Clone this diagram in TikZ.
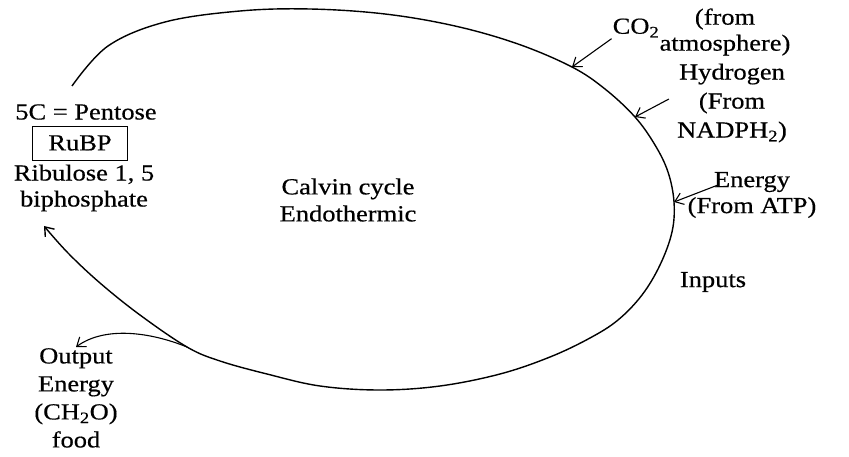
\documentclass[tikz,border=0pt]{standalone}
\usepackage{fontspec}
\setmainfont{Liberation Serif}[FakeStretch=1.15, FakeBold=0.5]
\usetikzlibrary{arrows.meta, positioning}

\tikzset{
  lbl/.style={font=\fontsize{23}{26}\selectfont, inner sep=1pt, align=center},
  inarrow/.style={-{Straight Barb[length=8pt,width=12pt]}, line width=1.1pt},
  loopline/.style={line width=1.4pt}
}

\begin{document}
\begin{tikzpicture}[x=1pt, y=-1pt]
    \useasboundingbox (0,0) rectangle (849,457);

    % RuBP side
    \node [lbl] (pentose) at (86,112) {5C = Pentose};
    \node [lbl, draw, line width=0.9pt, minimum width=95pt, minimum height=34pt] (rubp) at (80,143) {RuBP};
    \node [lbl] (ribulose) at (84,188) {Ribulose 1, 5\\biphosphate};
    \coordinate (back) at (44,226);

    % middle
    \node [lbl, font=\fontsize{23}{27}\selectfont] (calvin) at (348,200) {Calvin cycle\\Endothermic};

    % inputs
    \node [lbl] (co2) at (636,28) {CO\textsubscript{2}};
    \node [lbl] (fromair) at (725,32) {(from\\atmosphere)};
    \node [lbl, font=\fontsize{23}{29}\selectfont] (fromnadph) at (732,103) {Hydrogen\\(From\\NADPH\textsubscript{2})};
    \node [lbl] (fromatp) at (752,195) {Energy\\(From ATP)};
    \node [lbl] (inputs) at (713,282) {Inputs};
    \coordinate (energytail) at (718,185);

    % output
    \node [lbl, font=\fontsize{23}{28}\selectfont, anchor=north] (output) at (76,347) {Output\\Energy\\(CH\textsubscript{2}O)\\food};

    % points on the cycle
    \coordinate (inco2) at (572,67);
    \coordinate (inh) at (635,117);
    \coordinate (inatp) at (674,202);
    \coordinate (outpt) at (187,347);

    % the cycle
    \draw [loopline, -{Straight Barb[length=8pt,width=12pt]}] plot [smooth, tension=0.6] coordinates {
      (72,86) (108,46) (165,22) (240,11) (310,9) (385,14) (455,26) (518,44)
      (inco2) (605,89) (inh) (655,145) (668,172) (inatp) (672,232) (660,265)
      (642,295) (618,320) (590,338) (550,357) (500,374) (440,386) (380,390)
      (320,386) (267,374) (220,361) (outpt) (140,315) (100,283) (68,253) (back)};

    \draw [inarrow] (co2.south west) -- (inco2);
    \draw [inarrow] ([xshift=-7pt,yshift=4pt]fromnadph.west) -- (inh);
    \draw [inarrow] (energytail) -- (inatp);
    \draw [inarrow] (outpt) .. controls (150,332) and (105,326) .. (output.north);
\end{tikzpicture}
\end{document}
